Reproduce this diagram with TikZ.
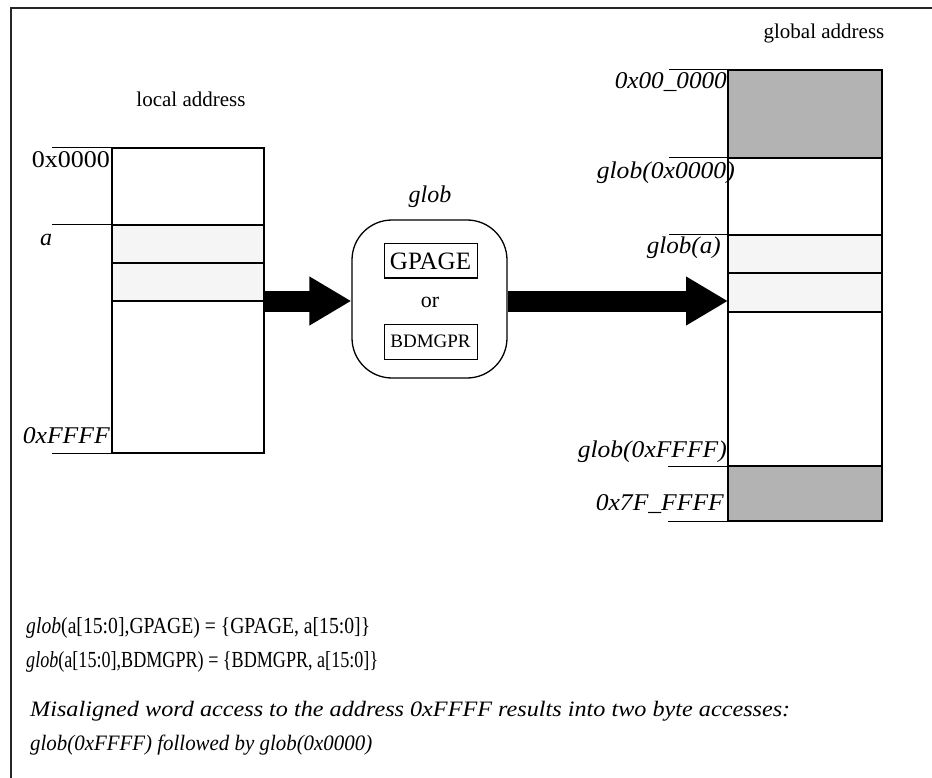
\documentclass[tikz,border=0pt]{standalone}
\usepackage{fontspec}
\usepackage{graphicx}
\setmainfont{Liberation Serif}
\usetikzlibrary{arrows.meta,calc}
\definecolor{lgray}{HTML}{F5F5F5}
\definecolor{dgray}{HTML}{B3B3B3}
\newcommand\fitw[2]{\resizebox{#1}{\height}{#2}}
\begin{document}
\begin{tikzpicture}[x=1pt,y=-1pt,font=\fontsize{20}{24}\selectfont,
  lcell/.style={draw,line width=2pt,minimum width=152pt,inner sep=0pt,outer sep=0pt,anchor=north west},
  gcell/.style={draw,line width=2.4pt,minimum width=154pt,inner sep=0pt,outer sep=0pt,anchor=north west},
  lbl/.style={inner sep=0pt,anchor=east,font=\fontsize{24}{28}\selectfont},
  tick/.style={line width=1pt},
  bigarrow/.style={line width=21pt,-{Triangle[length=42pt,width=46pt]}},
  selbox/.style={draw,line width=1pt,minimum width=93pt,inner sep=0pt}]
\useasboundingbox (0,0) rectangle (932,778);
% frame
\draw[line width=1.5pt,black!85] (11,778) -- (11,8) -- (932,8);
% local memory
\node[lcell,minimum height=77pt] (l1) at (112,148) {};
\node[lcell,minimum height=38pt,fill=lgray] (l2) at (112,225) {};
\node[lcell,minimum height=38pt,fill=lgray] (l3) at (112,263) {};
\node[lcell,minimum height=152pt] (l4) at (112,301) {};
\node[font=\fontsize{21}{25}\selectfont] (ltitle) at (191,99) {local address};
\coordinate (lt1) at (52,148);
\coordinate (lt2) at (52,225);
\coordinate (lt3) at (52,453);
\draw[tick] (lt1) -- (l1.north west);
\draw[tick] (lt2) -- (l2.north west);
\draw[tick] (lt3) -- (l4.south west);
\node[lbl] (la0) at (110,160) {\fitw{78pt}{0x0000}};
\node[inner sep=0pt,font=\fontsize{24}{28}\selectfont] (laa) at (46,240) {\itshape a};
\node[lbl] (laf) at (110,436) {\fitw{87pt}{\itshape 0xFFFF}};
% global memory
\node[gcell,minimum height=88pt,fill=dgray] (g1) at (728,70) {};
\node[gcell,minimum height=77pt] (g2) at (728,158) {};
\node[gcell,minimum height=38pt,fill=lgray] (g3) at (728,235) {};
\node[gcell,minimum height=39pt,fill=lgray] (g4) at (728,273) {};
\node[gcell,minimum height=154pt] (g5) at (728,312) {};
\node[gcell,minimum height=55pt,fill=dgray] (g6) at (728,466) {};
\node[font=\fontsize{21}{25}\selectfont] (gtitle) at (824,33) {global address};
\coordinate (gt1) at (669,70);
\coordinate (gt2) at (669,158);
\coordinate (gt3) at (669,235);
\coordinate (gt4) at (668,466);
\coordinate (gt5) at (668,521);
\draw[tick] (gt1) -- (g1.north west);
\draw[tick] (gt2) -- (g2.north west);
\draw[tick] (gt3) -- (g3.north west);
\draw[tick] (gt4) -- (g6.north west);
\draw[tick] (gt5) -- (g6.south west);
\node[lbl] (ga0) at (727,82) {\fitw{112pt}{\itshape 0x00\_0000}};
\node[lbl] (ga1) at (735,173) {\fitw{138pt}{\itshape glob(0x0000)}};
\node[lbl] (ga2) at (721,248) {\fitw{74pt}{\itshape glob(a)}};
\node[lbl] (ga3) at (727,452) {\fitw{149pt}{\itshape glob(0xFFFF)}};
\node[lbl] (ga4) at (724,504) {\fitw{128pt}{\itshape 0x7F\_FFFF}};
% glob function
\node[draw,line width=1.3pt,rounded corners=40pt,minimum width=155pt,minimum height=158pt] (mid) at (429.5,299) {};
\node[font=\fontsize{24}{28}\selectfont] (mtitle) at (430,197) {\itshape glob};
\node[selbox,minimum height=34pt,font=\fontsize{25}{28}\selectfont] (gp) at (430.5,261) {GPAGE};
\node[font=\fontsize{22}{26}\selectfont] (or) at (430,302) {or};
\node[selbox,minimum height=35pt,font=\fontsize{19}{22}\selectfont] (bd) at (430.5,341.5) {BDMGPR};
% arrows
\draw[bigarrow] (l4.north east) -- (mid.west |- l4.north east);
\draw[bigarrow] (mid.east |- l4.north east) -- (g4.west |- l4.north east);
% formulas
\node[anchor=west,inner sep=0pt,font=\fontsize{23}{27}\selectfont] (f1) at (26,628) {\fitw{344pt}{\textit{glob}(a[15:0],GPAGE) = \{GPAGE, a[15:0]\}}};
\node[anchor=west,inner sep=0pt,font=\fontsize{23}{27}\selectfont] (f2) at (26,662) {\fitw{352pt}{\textit{glob}(a[15:0],BDMGPR) = \{BDMGPR, a[15:0]\}}};
\node[anchor=west,inner sep=0pt,font=\fontsize{22}{26}\selectfont] (n1) at (30,711) {\fitw{760pt}{\itshape Misaligned word access to the address 0xFFFF results into two byte accesses:}};
\node[anchor=west,inner sep=0pt,font=\fontsize{22}{26}\selectfont] (n2) at (30,745) {\fitw{342pt}{\itshape glob(0xFFFF) followed by glob(0x0000)}};
\end{tikzpicture}
\end{document}
